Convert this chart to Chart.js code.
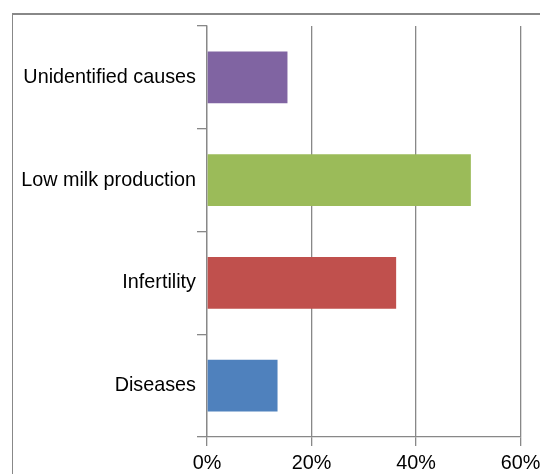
<!DOCTYPE html>
<html>
<head>
<meta charset="utf-8">
<script src="https://cdn.jsdelivr.net/npm/chart.js@4/dist/chart.umd.min.js"></script>
<style>
  html, body { margin: 0; padding: 0; background: #fff; overflow: hidden; width: 540px; height: 474px; }
  #frame {
    position: absolute; left: 12px; top: 13px; width: 600px; height: 600px;
    border-top: 2px solid #888; border-left: 1px solid #888;
  }
  #wrap { position: absolute; left: 0; top: 0; width: 560px; height: 474px; }
</style>
</head>
<body>
<div id="frame"></div>
<div id="wrap"><canvas id="chart"></canvas></div>
<script>
// Reasons for culling, share of animals (%)
const categories = ['Unidentified causes', 'Low milk production', 'Infertility', 'Diseases'];
const shares = [15.4, 50.5, 36.2, 13.5];
const barColors = ['#8064A2', '#9BBB59', '#C0504D', '#4F81BD'];
const xTicks = [0, 20, 40, 60];

const FONT = { family: '"Liberation Sans", Arial, sans-serif', size: 19.8 };

new Chart(document.getElementById('chart'), {
  type: 'bar',
  data: {
    labels: categories,
    datasets: [{
      data: shares,
      backgroundColor: barColors,
      borderWidth: 0,
      categoryPercentage: 0.505,
      barPercentage: 1
    }]
  },
  options: {
    indexAxis: 'y',
    responsive: true,
    maintainAspectRatio: false,
    animation: false,
    layout: { padding: { left: 0, right: 39.5, top: 26, bottom: 0 } },
    plugins: { legend: { display: false }, tooltip: { enabled: false } },
    scales: {
      x: {
        min: 0,
        max: 60,
        afterBuildTicks: s => { s.ticks = xTicks.map(v => ({ value: v })); },
        afterFit: s => { s.height = 37; },
        grid: { color: '#888', lineWidth: 1.3, tickLength: 9, drawTicks: true },
        border: { color: '#888', width: 1.3 },
        ticks: { color: '#000', font: FONT, padding: 6, callback: v => v + '%', maxRotation: 0 }
      },
      y: {
        afterFit: s => { s.width = 207; },
        grid: { drawOnChartArea: false, color: '#888', lineWidth: 1.3, tickLength: 10, offset: true },
        border: { color: '#888', width: 1.3 },
        ticks: { color: '#000', font: FONT, padding: 1 }
      }
    }
  }
});
</script>
</body>
</html>
